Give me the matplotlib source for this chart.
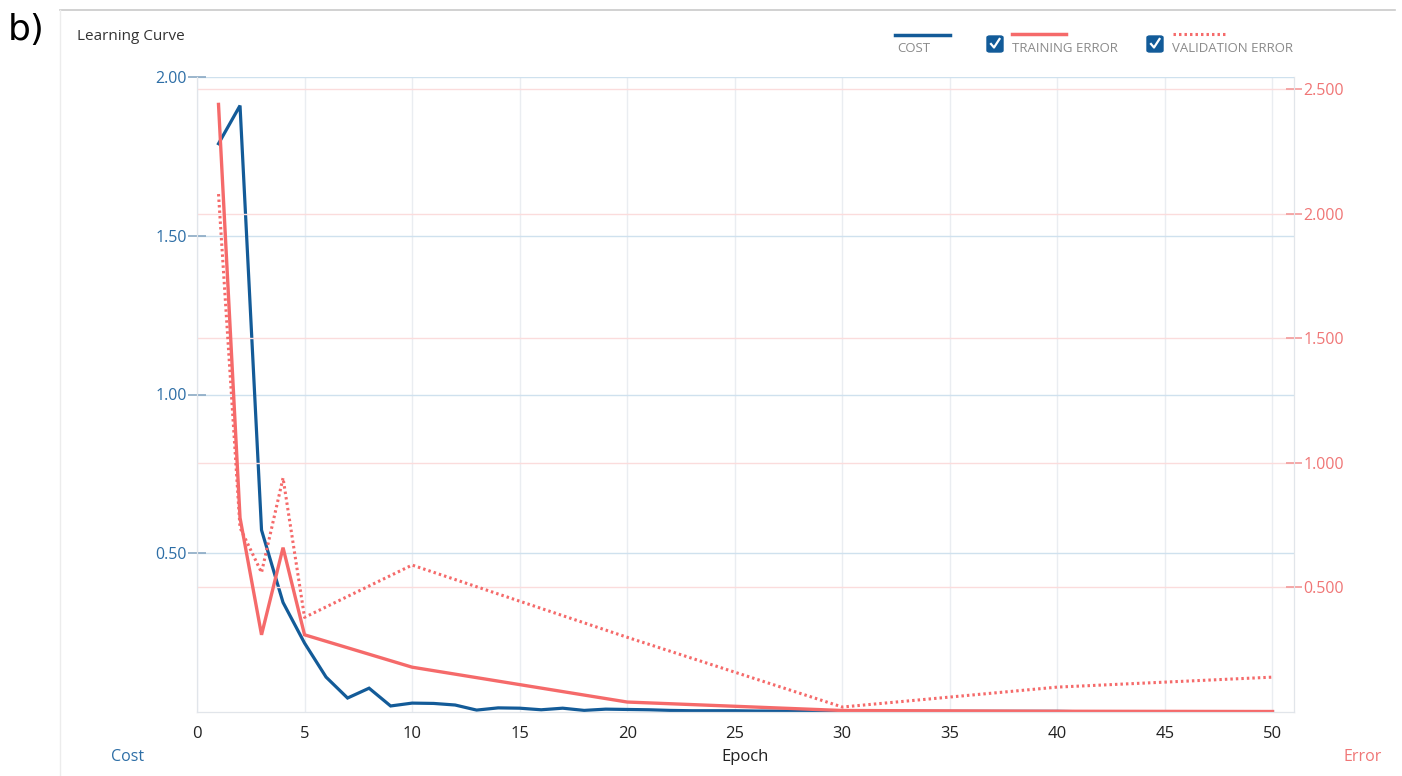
import matplotlib.pyplot as plt
from matplotlib.lines import Line2D
from matplotlib.patches import FancyBboxPatch

plt.rcParams['font.family'] = ['Open Sans', 'DejaVu Sans']

# cost per epoch (1..50)
cost_epochs = list(range(1, 51))
cost = [1.79, 1.91, 0.573, 0.345, 0.217, 0.11, 0.044, 0.075, 0.019, 0.028,
        0.027, 0.022, 0.006, 0.013, 0.012, 0.007, 0.012, 0.005, 0.009, 0.008,
        0.007, 0.005, 0.004, 0.004, 0.004, 0.003, 0.003, 0.003, 0.002, 0.002,
        0.002, 0.002, 0.002, 0.002, 0.002, 0.002, 0.002, 0.002, 0.002, 0.002,
        0.001, 0.001, 0.001, 0.001, 0.001, 0.001, 0.001, 0.001, 0.001, 0.001]

# errors are only evaluated at some epochs
err_epochs = [1, 2, 3, 4, 5, 10, 20, 30, 40, 50]
train_err = [2.44, 0.78, 0.31, 0.66, 0.31, 0.18, 0.04, 0.006, 0.003, 0.002]
valid_err = [2.08, 0.74, 0.56, 0.94, 0.38, 0.59, 0.30, 0.02, 0.10, 0.14]

BLUE = '#135b98'
BLUE_TXT = '#2d6ea6'
RED = '#f56a6a'
RED_TXT = '#f07676'

fig = plt.figure(figsize=(14.02, 7.76), dpi=100)
ax = fig.add_axes([197/1402, 1 - 712/776, (1294-197)/1402, (712-77)/776])
ax2 = ax.twinx()

ax.plot(cost_epochs, cost, color=BLUE, lw=2.3, solid_joinstyle='miter')
ax2.plot(err_epochs, train_err, color=RED, lw=2.4, solid_joinstyle='miter')
ax2.plot(err_epochs, valid_err, color=RED, lw=2.2, linestyle=(0, (0.8, 1.0)))

ax.set_xlim(0, 51)
ax.set_ylim(0, 2.0)
ax2.set_ylim(0, 2.55)

ax.set_xticks(range(0, 51, 5))
ax.set_yticks([0.5, 1.0, 1.5, 2.0])
ax.set_yticklabels(['0.50', '1.00', '1.50', '2.00'])
ax2.set_yticks([0.5, 1.0, 1.5, 2.0, 2.5])
ax2.set_yticklabels(['0.500', '1.000', '1.500', '2.000', '2.500'])

ax.grid(axis='y', color='#cfe1ee', lw=1)
ax.grid(axis='x', color='#eaedf1', lw=1)
ax2.grid(axis='y', color='#fbdcdc', lw=1)
ax.set_axisbelow(True)

for a in (ax, ax2):
    for s in a.spines.values():
        s.set_color('#e1e5ea')
    a.spines['top'].set_visible(False)

ax.tick_params(axis='y', direction='inout', length=13, width=1.2, color='#8aa9c4',
               labelcolor=BLUE_TXT, labelsize=11.5, pad=1)
ax.tick_params(axis='x', length=0, labelsize=12, labelcolor='#222222', pad=10)
ax2.tick_params(axis='y', direction='inout', length=12, width=1.2, color='#f39a9a',
                labelcolor=RED_TXT, labelsize=11.5, pad=1)

# frame of the panel
fig.add_artist(Line2D([60/1402, 1395/1402], [1 - 10/776, 1 - 10/776],
                      color='#c9c9c9', lw=1.2))
fig.add_artist(Line2D([60/1402, 60/1402], [0, 1 - 10/776], color='#ececec', lw=1))

fig.text(8/1402, 1 - 30/776, 'b)', fontsize=26, va='center', ha='left',
         family=['DejaVu Sans'])
fig.text(77/1402, 1 - 37/776, 'Learning Curve', fontsize=11, va='center', color='#333333')

# axis titles
fig.text(128/1402, 1 - 757/776, 'Cost', fontsize=11.5, ha='center', va='center', color=BLUE_TXT)
fig.text(745/1402, 1 - 757/776, 'Epoch', fontsize=12, ha='center', va='center', color='#222222')
fig.text(1363/1402, 1 - 757/776, 'Error', fontsize=11.5, ha='center', va='center', color=RED_TXT)

# legend at the top
def fx(px):
    return px / 1402

def fy(py):
    return 1 - py / 776

fig.add_artist(Line2D([fx(895), fx(950)], [fy(35), fy(35)], color=BLUE, lw=2.5))
fig.text(fx(897), fy(48), 'COST', fontsize=9.5, va='center', color='#8a8a8a')

fig.add_artist(Line2D([fx(1012), fx(1066)], [fy(34), fy(34)], color=RED, lw=2.5))
fig.add_artist(Line2D([fx(1173), fx(1226)], [fy(34), fy(34)], color=RED, lw=2.2,
                      linestyle=(0, (0.8, 1.0))))
for bx, lbl in [(987, 'TRAINING ERROR'), (1147, 'VALIDATION ERROR')]:
    box = FancyBboxPatch((fx(bx), fy(52)), fx(16), 16/776,
                         boxstyle='round,pad=0,rounding_size=0.002',
                         transform=fig.transFigure, facecolor='#125b99',
                         edgecolor='#125b99')
    fig.add_artist(box)
    fig.add_artist(Line2D([fx(bx + 4), fx(bx + 7), fx(bx + 12.5)],
                          [fy(44), fy(47.5), fy(39)], color='white', lw=1.6))
    fig.text(fx(bx + 25), fy(48), lbl, fontsize=9.5, va='center', color='#8a8a8a')

plt.savefig('out.png', dpi=100)
